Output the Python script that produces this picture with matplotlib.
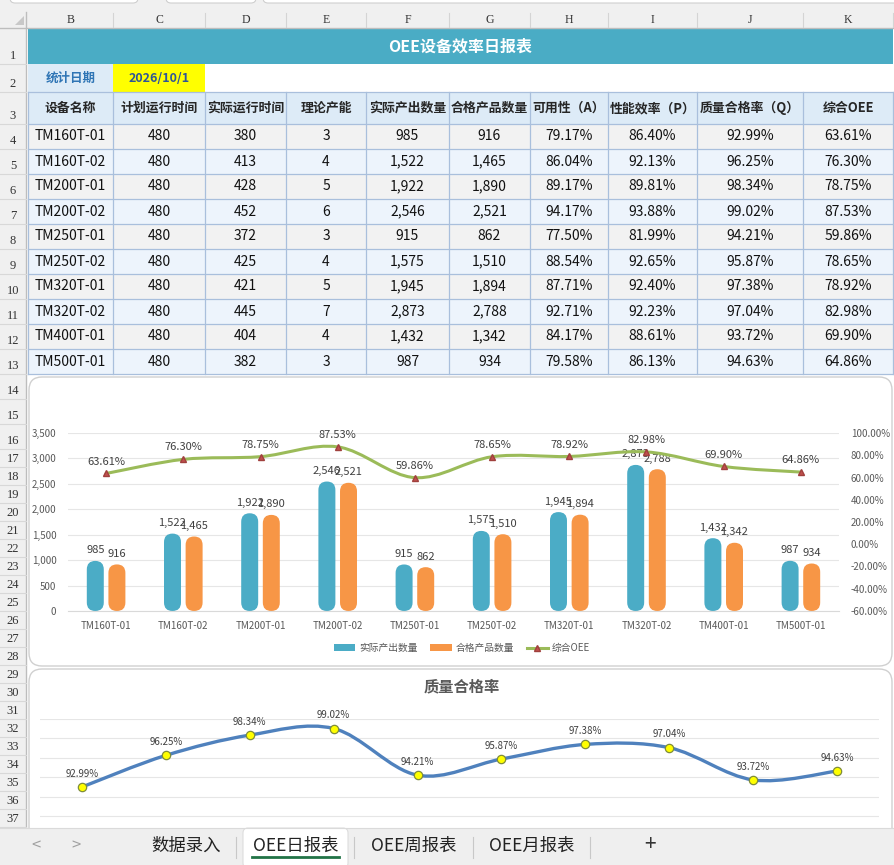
import matplotlib
matplotlib.use("Agg")
import matplotlib.pyplot as plt
from matplotlib.patches import Rectangle, FancyBboxPatch, PathPatch, Patch, Polygon
from matplotlib.lines import Line2D
from matplotlib.path import Path

plt.rcParams["font.family"] = ["Noto Sans CJK SC", "DejaVu Sans"]

W, H = 895, 865

# ---- data ----
names = ["TM160T-01", "TM160T-02", "TM200T-01", "TM200T-02", "TM250T-01",
         "TM250T-02", "TM320T-01", "TM320T-02", "TM400T-01", "TM500T-01"]
plan_time = [480, 480, 480, 480, 480, 480, 480, 480, 480, 480]
run_time = [380, 413, 428, 452, 372, 425, 421, 445, 404, 382]
capacity = [3, 4, 5, 6, 3, 4, 5, 7, 4, 3]
output_qty = [985, 1522, 1922, 2546, 915, 1575, 1945, 2873, 1432, 987]
good_qty = [916, 1465, 1890, 2521, 862, 1510, 1894, 2788, 1342, 934]
avail = [79.17, 86.04, 89.17, 94.17, 77.50, 88.54, 87.71, 92.71, 84.17, 79.58]
perf = [86.40, 92.13, 89.81, 93.88, 81.99, 92.65, 92.40, 92.23, 88.61, 86.13]
quality = [92.99, 96.25, 98.34, 99.02, 94.21, 95.87, 97.38, 97.04, 93.72, 94.63]
oee = [63.61, 76.30, 78.75, 87.53, 59.86, 78.65, 78.92, 82.98, 69.90, 64.86]

headers = ["设备名称", "计划运行时间", "实际运行时间", "理论产能", "实际产出数量",
           "合格产品数量", "可用性（A）", "性能效率（P）", "质量合格率（Q）", "综合OEE"]
col_letters = ["B", "C", "D", "E", "F", "G", "H", "I", "J", "K"]
sheet_tabs = ["数据录入", "OEE日报表", "OEE周报表", "OEE月报表"]

# ---- layout (pixels) ----
col_edges = [28, 113, 205, 286, 366, 449, 530, 608, 697, 803, 893]
row_heights = [36, 28, 32] + [25] * 13 + [18] * 21
row_top0 = 28

BLUE = "#4BACC6"
ORANGE = "#F79646"
GREEN = "#9BBB59"
GRID_BLUE = "#A9BFDC"


def px(x0, y0, x1, y1):
    return [x0 / W, 1 - y1 / H, (x1 - x0) / W, (y1 - y0) / H]


fig = plt.figure(figsize=(W / 100, H / 100), dpi=100)
fig.patch.set_facecolor("white")

bg = fig.add_axes([0, 0, 1, 1], zorder=0)
bg.set_xlim(0, W)
bg.set_ylim(H, 0)
bg.axis("off")

# row boundaries
row_edges = [row_top0]
for h in row_heights:
    row_edges.append(row_edges[-1] + h)

# top strip and headers
bg.add_patch(Rectangle((0, 0), W, 28, color="#F0F0F0", lw=0))
for x0, x1 in [(10, 138), (166, 256), (263, 905)]:
    bg.add_patch(FancyBboxPatch((x0, -14), x1 - x0, 17, boxstyle="round,pad=0,rounding_size=5",
                                fc="white", ec="#CFCFCF", lw=0.8))
bg.add_patch(Rectangle((0, 28), 27, H - 28, color="#F0F0F0", lw=0))
bg.plot([0, W], [27.5, 27.5], color="#BDBDBD", lw=1)
bg.plot([26.5, 26.5], [12, H], color="#BDBDBD", lw=1)
bg.add_patch(Polygon([[24, 16], [24, 25], [15, 25]], closed=True, color="#C8C8C8", lw=0))
for i, letter in enumerate(col_letters):
    xc = (col_edges[i] + col_edges[i + 1]) / 2
    bg.text(xc, 20, letter, ha="center", va="center", fontsize=8.5,
            family="Liberation Serif", color="#333333")
    bg.plot([col_edges[i + 1], col_edges[i + 1]], [13, 27], color="#D4D4D4", lw=0.8)
for r in range(len(row_heights)):
    bg.text(13, row_edges[r + 1] - 8, str(r + 1), ha="center", va="center", fontsize=9,
            family="Liberation Serif", color="#333333")
    bg.plot([0, 26], [row_edges[r + 1], row_edges[r + 1]], color="#D8D8D8", lw=0.8)

# title row
bg.add_patch(Rectangle((col_edges[0], row_edges[0]), col_edges[-1] - col_edges[0],
                       row_heights[0], color="#4AACC5", lw=0))
bg.text((col_edges[0] + col_edges[-1]) / 2, (row_edges[0] + row_edges[1]) / 2,
        "OEE设备效率日报表", ha="center", va="center", fontsize=11.5, weight="bold", color="white")

# date row
bg.add_patch(Rectangle((col_edges[0], row_edges[1]), col_edges[1] - col_edges[0],
                       row_heights[1], color="#DDEBF7", lw=0))
bg.add_patch(Rectangle((col_edges[1], row_edges[1]), col_edges[2] - col_edges[1],
                       row_heights[1], color="#FFFF00", lw=0))
ym = (row_edges[1] + row_edges[2]) / 2
bg.text((col_edges[0] + col_edges[1]) / 2, ym, "统计日期", ha="center", va="center",
        fontsize=9, weight="bold", color="#2F75B5")
bg.text((col_edges[1] + col_edges[2]) / 2, ym, "2026/10/1", ha="center", va="center",
        fontsize=9, weight="bold", color="#2F5597")

# header row
bg.add_patch(Rectangle((col_edges[0], row_edges[2]), col_edges[-1] - col_edges[0],
                       row_heights[2], color="#DDEBF7", lw=0))
for i, htxt in enumerate(headers):
    bg.text((col_edges[i] + col_edges[i + 1]) / 2, (row_edges[2] + row_edges[3]) / 2, htxt,
            ha="center", va="center", fontsize=9.3, weight="bold", color="#262626")

# data rows
cols = [names, plan_time, run_time, capacity, output_qty, good_qty, avail, perf, quality, oee]
for r in range(len(names)):
    y0, y1 = row_edges[3 + r], row_edges[4 + r]
    bg.add_patch(Rectangle((col_edges[0], y0), col_edges[-1] - col_edges[0], y1 - y0,
                           color="#F2F2F2" if r % 2 == 0 else "#EDF4FC", lw=0))
    for c, series in enumerate(cols):
        v = series[r]
        if c == 0:
            s = v
        elif c >= 6:
            s = f"{v:.2f}%"
        else:
            s = f"{v:,}"
        bg.text((col_edges[c] + col_edges[c + 1]) / 2, (y0 + y1) / 2, s, ha="center",
                va="center", fontsize=10, color="#111111")

tbl_top, tbl_bot = row_edges[2], row_edges[3 + len(names)]
for y in row_edges[2:4 + len(names)]:
    bg.plot([col_edges[0], col_edges[-1]], [y, y], color=GRID_BLUE, lw=0.9)
for x in col_edges:
    bg.plot([x, x], [tbl_top, tbl_bot], color=GRID_BLUE, lw=0.9)

# chart boxes
for y0, y1 in [(377, 666), (669, 880)]:
    bg.add_patch(FancyBboxPatch((29, y0), 863, y1 - y0, boxstyle="round,pad=0,rounding_size=13",
                                fc="white", ec="#D0D0D0", lw=1))


def smooth_path(xs, ys):
    verts = [(xs[0], ys[0])]
    codes = [Path.MOVETO]
    n = len(xs)
    for i in range(n - 1):
        a = i - 1 if i > 0 else i
        b = i + 2 if i + 2 < n else i + 1
        c1 = (xs[i] + (xs[i + 1] - xs[a]) / 6, ys[i] + (ys[i + 1] - ys[a]) / 6)
        c2 = (xs[i + 1] - (xs[b] - xs[i]) / 6, ys[i + 1] - (ys[b] - ys[i]) / 6)
        verts += [c1, c2, (xs[i + 1], ys[i + 1])]
        codes += [Path.CURVE4] * 3
    return Path(verts, codes)


# ---- chart 1: output bars + OEE line ----
ax1 = fig.add_axes(px(67.5, 433, 839.5, 611), zorder=2)
ax1.set_facecolor("none")
ax1.set_xlim(-0.5, len(names) - 0.5)
ax1.set_ylim(0, 3500)
ax1.set_yticks(range(0, 3501, 500))
ax1.set_yticklabels([f"{v:,}" for v in range(0, 3501, 500)])
ax1.set_xticks(range(len(names)))
ax1.set_xticklabels(names)
ax1.tick_params(length=0, labelsize=7, labelcolor="#595959")
ax1.tick_params(axis="y", pad=8)
ax1.tick_params(axis="x", pad=7)
for side in ["top", "left", "right"]:
    ax1.spines[side].set_visible(False)
ax1.spines["bottom"].set_color("#D9D9D9")
ax1.grid(axis="y", color="#E6E6E6", lw=0.8)
ax1.set_axisbelow(True)

bw = 0.22
off = 0.14
aspect = (3500 / 178) / (len(names) / 772)
for i in range(len(names)):
    for v, dx, color in [(output_qty[i], -off, BLUE), (good_qty[i], off, ORANGE)]:
        ax1.add_patch(FancyBboxPatch((i + dx - bw / 2, 0), bw, v,
                                     boxstyle=f"round,pad=0,rounding_size={bw / 2}",
                                     mutation_aspect=aspect, fc=color, ec="none", zorder=2))
        ax1.annotate(f"{v:,}", (i + dx, v), xytext=(0, 4), textcoords="offset points",
                     ha="center", va="bottom", fontsize=8, color="#404040")

ax2 = ax1.twinx()
ax2.set_ylim(-0.6, 1.0)
ticks2 = [-0.6, -0.4, -0.2, 0.0, 0.2, 0.4, 0.6, 0.8, 1.0]
ax2.set_yticks(ticks2)
ax2.set_yticklabels([f"{t * 100:.2f}%" for t in ticks2])
ax2.tick_params(length=0, labelsize=7, labelcolor="#595959", pad=8)
for side in ["top", "left", "right", "bottom"]:
    ax2.spines[side].set_visible(False)
xs = list(range(len(names)))
oee_frac = [v / 100 for v in oee]
ax2.add_patch(PathPatch(smooth_path(xs, oee_frac), fill=False, ec=GREEN, lw=2.2,
                        capstyle="round", zorder=3))
ax2.plot(xs, oee_frac, ls="none", marker="^", ms=5, mfc="#C0504D", mec="#A0403D", zorder=4)
for x, v in zip(xs, oee):
    ax2.annotate(f"{v:.2f}%", (x, v / 100), xytext=(0, 5), textcoords="offset points",
                 ha="center", va="bottom", fontsize=8, color="#404040")

handles = [Patch(fc=BLUE, ec="none"), Patch(fc=ORANGE, ec="none"),
           Line2D([], [], color=GREEN, lw=2.2, marker="^", ms=5, mfc="#C0504D", mec="#A0403D")]
fig.legend(handles, ["实际产出数量", "合格产品数量", "综合OEE"], loc="center",
           bbox_to_anchor=(462 / W, 1 - 648 / H), ncol=3, frameon=False, fontsize=7,
           labelcolor="#595959", handlelength=2.2, handletextpad=0.4, columnspacing=1.3)

# ---- chart 2: quality rate ----
ax3 = fig.add_axes(px(40, 719, 879, 835.4), zorder=2)
ax3.set_facecolor("none")
ax3.set_xlim(-0.5, len(names) - 0.5)
ax3.set_ylim(0.88, 1.0)
ax3.set_yticks([0.88, 0.90, 0.92, 0.94, 0.96, 0.98, 1.0])
ax3.set_xticks([])
ax3.tick_params(length=0, labelleft=False)
for side in ax3.spines:
    ax3.spines[side].set_visible(False)
ax3.grid(axis="y", color="#E6E6E6", lw=0.8)
q_frac = [v / 100 for v in quality]
ax3.add_patch(PathPatch(smooth_path(xs, q_frac), fill=False, ec="#4F81BD", lw=2.4,
                        capstyle="round", zorder=3))
ax3.plot(xs, q_frac, ls="none", marker="o", ms=6, mfc="#FFFF00", mec="#7F8C3A", mew=0.9,
         zorder=4)
for x, v in zip(xs, quality):
    ax3.annotate(f"{v:.2f}%", (x, v / 100), xytext=(0, 6), textcoords="offset points",
                 ha="center", va="bottom", fontsize=7, color="#404040")
fig.text(462 / W, 1 - 686 / H, "质量合格率", ha="center", va="center", fontsize=11,
         weight="bold", color="#595959")

# ---- sheet tab bar ----
tb = fig.add_axes([0, 0, 1, 1], zorder=10)
tb.set_xlim(0, W)
tb.set_ylim(H, 0)
tb.axis("off")
tb.add_patch(Rectangle((0, 828), W, 37, color="#EFEFEF", lw=0))
tb.plot([0, W], [828, 828], color="#DADADA", lw=0.8)
tb.add_patch(FancyBboxPatch((243, 828), 105, 40, boxstyle="round,pad=0,rounding_size=5",
                            fc="white", ec="#DDDDDD", lw=0.8))
tb.plot([252, 339], [857, 857], color="#217346", lw=2)
tb.text(36, 846, "<", ha="center", va="center", fontsize=12, color="#A0A0A0")
tb.text(76, 846, ">", ha="center", va="center", fontsize=12, color="#A0A0A0")
for xc, label in zip([186, 296, 414, 532], sheet_tabs):
    tb.text(xc, 846, label, ha="center", va="center", fontsize=12.5, color="#222222")
tb.text(650, 845, "+", ha="center", va="center", fontsize=15, color="#333333")
for x in [236, 354, 473, 590]:
    tb.plot([x, x], [837, 858], color="#C8C8C8", lw=0.8)

fig.savefig("out.png", dpi=100)
